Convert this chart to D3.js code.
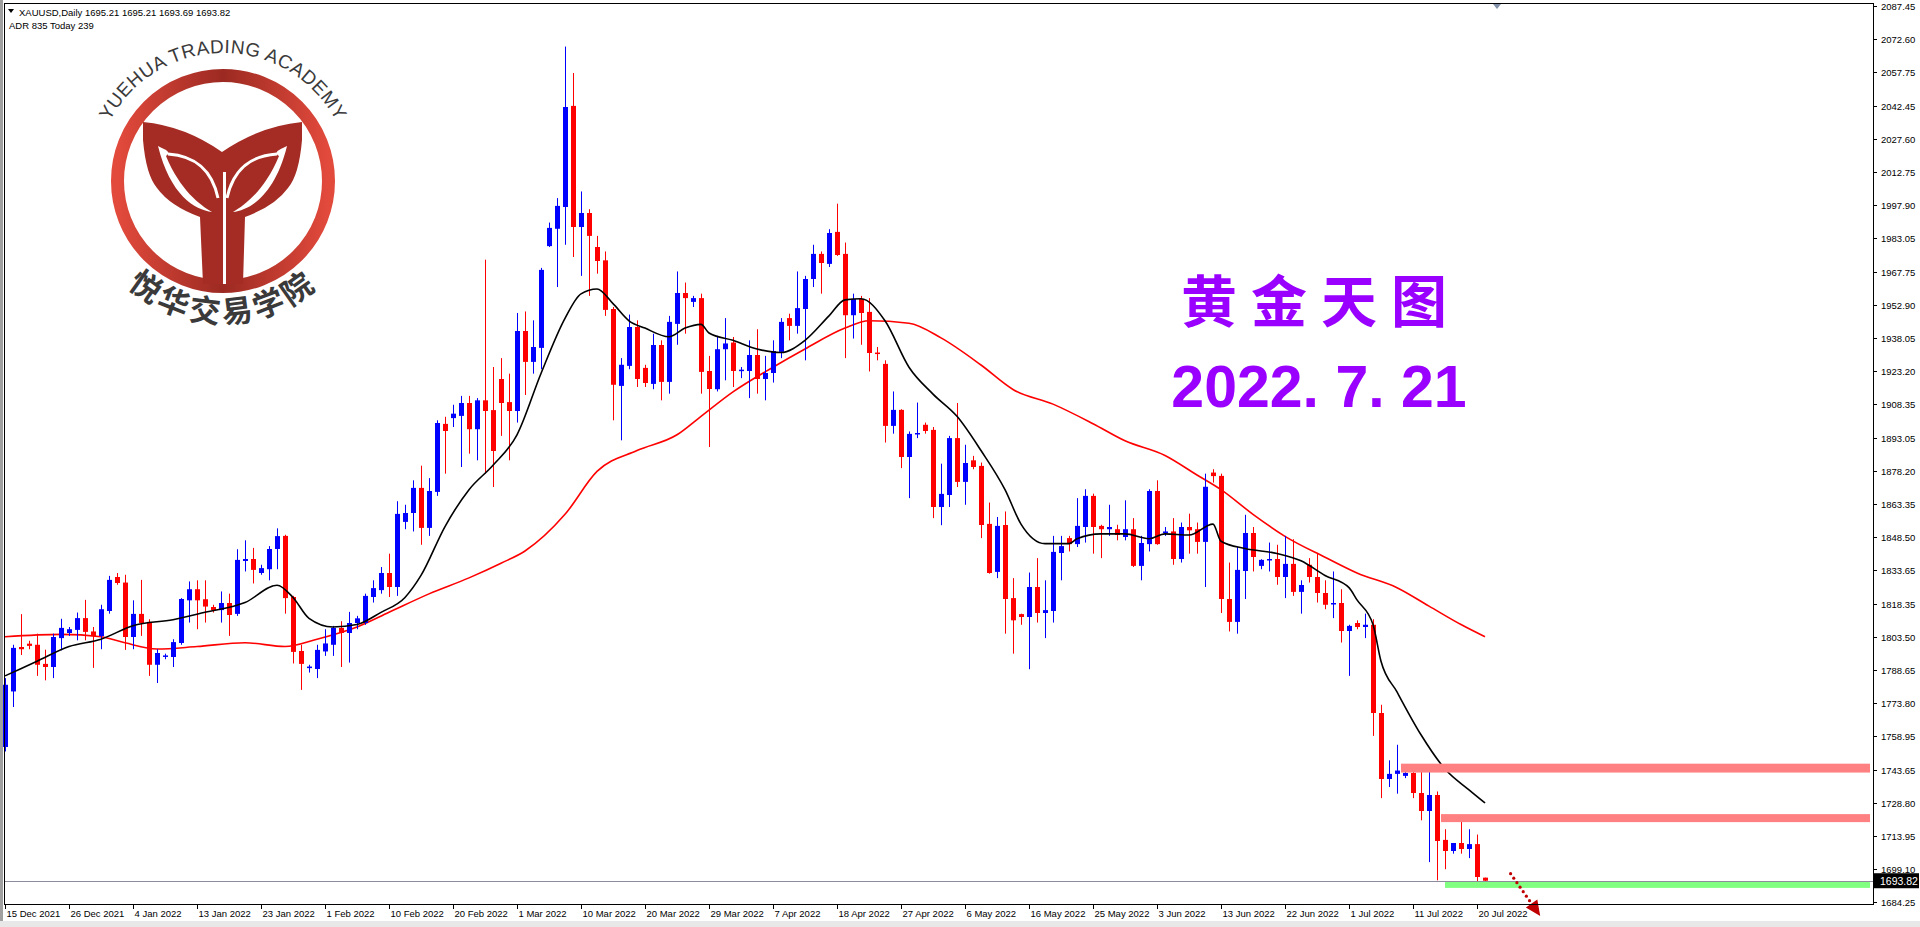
<!DOCTYPE html>
<html><head><meta charset="utf-8">
<script src="https://cdn.jsdelivr.net/npm/d3@7"></script>
<style>html,body{margin:0;padding:0;background:#fff;overflow:hidden}</style>
</head><body>
<svg id="c" width="1920" height="927"></svg>
<script>
// ---------- DATA ----------
const dateLabels = ["15 Dec 2021","26 Dec 2021","4 Jan 2022","13 Jan 2022","23 Jan 2022","1 Feb 2022","10 Feb 2022","20 Feb 2022","1 Mar 2022","10 Mar 2022","20 Mar 2022","29 Mar 2022","7 Apr 2022","18 Apr 2022","27 Apr 2022","6 May 2022","16 May 2022","25 May 2022","3 Jun 2022","13 Jun 2022","22 Jun 2022","1 Jul 2022","11 Jul 2022","20 Jul 2022"];
const labelEvery = 8;
const priceTicks = [2087.45,2072.60,2057.75,2042.45,2027.60,2012.75,1997.90,1983.05,1967.75,1952.90,1938.05,1923.20,1908.35,1893.05,1878.20,1863.35,1848.50,1833.65,1818.35,1803.50,1788.65,1773.80,1758.95,1743.65,1728.80,1713.95,1699.10,1684.25];
const open = [1754,1779,1799,1800.5,1800,1791.4,1790,1803,1805.3,1806.7,1812,1806,1803.9,1815.2,1830.5,1828,1803.5,1813.9,1810.3,1791,1794.6,1794.5,1800.8,1820,1825,1820.5,1817,1815.6,1818.8,1813.9,1837.7,1838.6,1832.3,1834,1843.1,1849,1821.5,1797.2,1789.5,1789.1,1797,1800,1807.6,1805.3,1809.8,1809.8,1821.5,1824.6,1832.3,1826,1855.3,1859.3,1870.6,1852.6,1868.8,1899.4,1902,1903,1908.8,1897,1910,1905.6,1919.6,1909.2,1905.2,1941.2,1927.3,1933.6,1979.4,1987.2,1997,2042.5,1988,1994.3,1979,1973,1951.1,1916.5,1925.5,1943,1924.6,1917.4,1934.9,1918.3,1944.4,1958.3,1954.3,1956,1923.2,1915,1933,1936,1923.4,1923.2,1930.4,1919.6,1922.3,1931.8,1947,1943.5,1951.1,1964.6,1975.9,1971.4,1985.8,1975.9,1948.3,1955.6,1949.8,1931.5,1926.4,1898.5,1905.7,1884.5,1894.9,1899,1896.7,1862,1867.4,1893,1873.3,1883,1880.5,1854.4,1832.8,1853.9,1821,1813.8,1812.5,1826,1814.3,1815.2,1841.3,1848,1845.3,1853,1867,1853.5,1852,1852,1848.5,1852,1835.5,1845.3,1869.2,1850.3,1851,1838.6,1853,1852,1846.3,1877.5,1876,1820.6,1810.3,1833.2,1850.3,1835.5,1838.2,1838.6,1830.5,1836.4,1823.8,1836,1830.5,1823.3,1818.4,1818.8,1806.2,1809.8,1808,1809,1769.3,1739.6,1741.9,1741,1742.3,1733.3,1725.2,1732.4,1712.2,1707.2,1710.8,1708.1,1710.3,1695.21];
const high = [1785,1800,1813.8,1801.8,1805,1797.8,1805,1811.7,1808,1814.5,1820.2,1808,1818,1831,1832.3,1831.5,1820,1829.2,1811.5,1798,1796,1802.5,1821,1828.5,1829,1829,1818,1824,1823,1843,1847,1843.6,1836,1844.4,1852.4,1849.5,1822,1800,1791,1800,1807,1808.5,1810.6,1814.8,1813,1823,1829,1835,1841,1864.6,1863,1874,1880.6,1875,1901,1902.6,1908,1912,1912,1911,1973.3,1925,1929,1922,1949.3,1950,1946,1969.6,1990,2001,2069.2,2057.3,2004,1996,1984,1977,1952,1929,1948.6,1946,1926,1940,1937,1948,1968,1963,1957,1958,1930,1939,1947,1938.5,1925,1937,1942,1930,1937,1947,1949,1968,1966,1980,1977,1987,1998.5,1981,1958,1957,1956,1934,1928,1914,1906,1896,1909,1900,1898,1881.5,1894,1908.8,1890,1885,1882,1864,1857.5,1860,1830,1814,1832.5,1839,1829,1849,1849,1849,1866,1870,1868,1854,1863,1854,1865,1857,1849,1870,1874,1853,1857,1855,1859,1855,1877,1879,1877,1837,1844,1858.5,1853,1838.5,1846,1845,1849,1847.5,1829,1839,1841,1829,1833,1825,1809,1811,1814,1811.5,1773,1748,1755,1744.5,1744,1744.5,1744.8,1734,1717,1708,1722.5,1717,1714.6,1695.21];
const low = [1752,1772,1795.4,1798,1786,1784,1785,1797.5,1804,1802,1802,1789.6,1798,1814,1827,1797.7,1798,1804,1786,1782.8,1793.5,1790,1800,1810,1807,1810,1814.5,1810,1804,1813,1833,1827.6,1831.5,1829,1834,1814,1791.6,1779.7,1787.5,1785,1795,1795,1790,1792,1807,1809,1819,1823,1821.5,1822,1852,1851,1845,1849,1867,1877,1898,1880,1886,1883,1877,1871,1894,1883,1900,1912.4,1922,1924,1979,1961,1980,1974.5,1966,1957,1967,1948,1901,1892,1924,1916,1916,1915,1910,1913,1935,1940,1952,1913,1889,1914,1919,1916,1920,1911,1913,1910,1918,1929,1937,1940,1928,1961,1958,1970,1975,1929,1937.8,1935,1923,1928,1891,1895,1879.5,1866,1893,1895,1857,1853.8,1862,1871,1863,1879,1848,1832,1830,1805,1796,1809,1789,1810,1803,1810,1829,1842,1844,1846,1841,1839,1849,1847,1847,1835,1829,1842,1845,1849,1836,1837,1841,1841,1826,1873,1814.3,1806,1805,1820.6,1833,1834,1833,1827,1821,1822,1814,1828,1819,1816,1812,1801,1786,1807,1803,1759,1731,1736,1733,1740,1731,1721,1702.2,1694,1699,1706,1706,1704,1692,1693.69];
const close = [1782,1798.6,1798,1799.5,1791,1790,1803.5,1807.6,1807,1812,1805.8,1803.9,1816,1829.2,1827.8,1803.5,1813.9,1809.8,1791,1796.3,1795.2,1801.2,1820.6,1825,1820,1817.2,1815.6,1818.8,1813.4,1838.2,1838.6,1833.7,1834.5,1843.1,1848.9,1821,1796.8,1791.4,1790.2,1797.7,1800.6,1807.6,1805.3,1809.8,1811.9,1822,1825.5,1832.3,1826,1858.9,1859.3,1870.6,1852.6,1869.2,1899.8,1896.2,1904,1908.8,1897,1910,1905.2,1887.2,1908.8,1905.2,1941.2,1927.3,1934,1968.7,1987.6,1997.5,2042,1988,1994.3,1984,1972.7,1950.7,1917,1926,1943,1919.6,1917.8,1934.9,1918.3,1945.3,1958.3,1956,1956,1922.8,1915.1,1933,1935.6,1923.2,1923.8,1930.4,1919.6,1922.3,1932.2,1945.3,1943.5,1951.5,1964.6,1975.9,1971.8,1985.3,1975.4,1948.3,1955.6,1949.3,1931.3,1931,1898.5,1905.7,1884.5,1894.9,1895.3,1896.2,1862,1867.9,1893,1873.3,1881.8,1880,1853.9,1832.3,1853.5,1820.6,1811,1812.5,1826,1814.3,1815.6,1841.8,1844.4,1845.3,1853.5,1867,1853,1852,1853,1849.4,1852,1835.5,1845.8,1869.2,1845.3,1851,1838.6,1853,1851.5,1846.3,1871.1,1875.9,1820.6,1810.3,1833.7,1850.3,1839.5,1838.2,1838.6,1830.5,1836.4,1823.8,1826.9,1830.5,1823.3,1818,1818.8,1806.2,1808.5,1808,1809,1769.3,1739.6,1741.9,1743.4,1742.3,1733.3,1725.2,1732.4,1711.7,1707.2,1710.8,1708.1,1710.3,1695.5,1693.82];
// moving averages (bar index, value)
const fastMaBars = [0,4,8,12,16,21,25,30,34,36,38,41,44,47,50,52,55,58,61,64,67,70,72,74,76,78,80,83,85,87,88,91,94,97,100,103,105,107,110,113,116,119,122,125,127,130,133,134,137,140,143,145,148,151,152,155,159,162,165,168,169,171,172,174,177,180,183,185];
const fastMaVals = [1786,1792.6,1799.2,1802.5,1808.6,1811.3,1814.6,1819,1826.8,1821.3,1811.9,1808,1809.1,1814.6,1821.3,1831.2,1853.2,1869.8,1880.8,1894.5,1922.1,1946.9,1957.9,1960.1,1953.5,1945.8,1942.5,1938.6,1942.5,1944.2,1940.3,1937,1933.1,1931.5,1937,1948,1955.2,1955.7,1945.8,1924.9,1912.8,1902.8,1887.4,1869.8,1854.3,1845.5,1845.5,1847.7,1849.9,1849.9,1847.7,1849.9,1849.4,1854.3,1846.6,1843.3,1841.1,1837.8,1831.2,1825.7,1820.2,1809.1,1792.6,1778.8,1759.5,1744.1,1734.7,1728.8];
const slowMaBars = [0,7,12,15,19,24,30,35,39,44,48,53,58,62,65,70,74,79,84,87,91,96,100,105,108,113,117,122,126,131,136,140,145,149,152,156,160,165,169,174,178,182,185];
const slowMaVals = [1803.6,1804.7,1803.6,1800.9,1798.1,1799.2,1800.9,1799.2,1802.5,1808,1814.6,1822.9,1830.1,1836.7,1842.2,1858.7,1878,1887.4,1894.5,1902.8,1913.8,1924.9,1933.1,1942.5,1945.8,1944.7,1938.1,1925.9,1914.9,1908.3,1899.5,1891.8,1885.2,1876.4,1869.8,1858.7,1848.8,1839.4,1832.3,1825.7,1817.4,1809.1,1803.6];
// zones drawn by the analyst: [startBar, low, high]
const zoneStart = [174.5, 179.5, 180];
const zoneLow = [1742.5, 1720.2, 1690.6];
const zoneHigh = [1746.5, 1723.8, 1693.7];
const zoneColor = ["#ff8080","#ff8080","#80ff80"];
const lastPrice = 1693.82;
const arrowFrom = [188.2, 1697.0];
const arrowTo = [191.9, 1678.0];
const headerLine1 = "XAUUSD,Daily  1695.21 1695.21 1693.69 1693.82";
const headerLine2 = "ADR 835  Today 239";
const titleText = "黄金天图";
const dateText = "2022. 7. 21";

// ---------- DRAW ----------
const svg = d3.select("#c");
const L = 4, R = 1873, T = 3, B = 904;
const n = close.length;
const x = d3.scaleLinear().domain([0, n - 1]).range([5, 1485]);
const y = d3.scaleLinear().domain([1684.25, 2087.45]).range([902, 6]);
const axisFont = "'Liberation Sans', Arial, sans-serif";

svg.append("rect").attr("x",0).attr("y",0).attr("width",1920).attr("height",927).attr("fill","#fff");
svg.append("rect").attr("x",0).attr("y",0).attr("width",3).attr("height",927).attr("fill","#a0a0a0");
svg.append("rect").attr("x",0).attr("y",921).attr("width",1920).attr("height",6).attr("fill","#e8e8e8");

// logo
const lg = svg.append("g");
const cx = 223, cy = 181;
const defs = svg.append("defs");
const gr = defs.append("linearGradient").attr("id","rg").attr("x1","0").attr("x2","1").attr("y1","0").attr("y2","0");
gr.append("stop").attr("offset","0%").attr("stop-color","#e24a3c");
gr.append("stop").attr("offset","50%").attr("stop-color","#9c2a22");
gr.append("stop").attr("offset","100%").attr("stop-color","#e24a3c");
lg.append("circle").attr("cx",cx).attr("cy",cy).attr("r",105.5).attr("fill","none").attr("stroke","url(#rg)").attr("stroke-width",13);
lg.append("path").attr("fill","#a52c24")
  .attr("d","M143,122 Q185,126 222,152 Q260,126 302,122 L302,140 Q299,175 288,188 Q275,206 245,217 L243,284 L203,284 L200,217 Q170,206 157,188 Q146,175 143,140 Z");
[[1,0],[-1,445]].forEach(([s,o])=>{
  const g = lg.append("g").attr("transform",`translate(${o},0) scale(${s},1)`);
  g.append("path").attr("d","M158,146 C166,150 172,152 166,156 C180,190 200,205 212,212 C195,210 170,195 158,146 Z").attr("fill","#fff");
  g.append("path").attr("d","M168,154 C196,156 212,170 218,198").attr("stroke","#fff").attr("stroke-width",3).attr("fill","none");
});
lg.append("line").attr("x1",224.5).attr("x2",224.5).attr("y1",172).attr("y2",284).attr("stroke","#fff").attr("stroke-width",3);
defs.append("path").attr("id","arcTop").attr("d",`M${cx-128},${cy} A128,128 0 0 1 ${cx+128},${cy}`);
defs.append("path").attr("id","arcBot").attr("d",`M${cx-142},${cy} A142,142 0 0 0 ${cx+142},${cy}`);
lg.append("text").attr("font-family",axisFont).attr("font-size",19).attr("fill","#3a3a3a").attr("letter-spacing",0.5)
  .append("textPath").attr("href","#arcTop").attr("startOffset","50%").attr("text-anchor","middle").text("YUEHUA TRADING ACADEMY");
lg.append("text").attr("font-family","'Noto Sans CJK SC'").attr("font-weight","bold").attr("font-size",31).attr("fill","#3a3a3a").attr("letter-spacing",4)
  .append("textPath").attr("href","#arcBot").attr("startOffset","50%").attr("text-anchor","middle").text("悦华交易学院");

// moving averages
const ma = d3.line().x(d=>x(d[0])).y(d=>y(d[1])).curve(d3.curveMonotoneX);
svg.append("path").attr("d", ma(slowMaBars.map((b,i)=>[b,slowMaVals[i]]))).attr("fill","none").attr("stroke","#ff0000").attr("stroke-width",1.6);

// candles
const g = svg.append("g");
d3.range(n).forEach(i=>{
  const up = close[i] >= open[i];
  const col = up ? "#0000ff" : "#ff0000";
  const cxp = Math.round(x(i)) + 0.5;
  g.append("line").attr("x1",cxp).attr("x2",cxp).attr("y1",y(high[i])).attr("y2",y(low[i])).attr("stroke",col).attr("stroke-width",1);
  const top = y(Math.max(open[i],close[i])), bot = y(Math.min(open[i],close[i]));
  g.append("rect").attr("x",cxp-2.5).attr("width",5).attr("y",top).attr("height",Math.max(1.5,bot-top)).attr("fill",col);
});
svg.append("path").attr("d", ma(fastMaBars.map((b,i)=>[b,fastMaVals[i]]))).attr("fill","none").attr("stroke","#000").attr("stroke-width",1.6);

// zones
zoneStart.forEach((s,i)=>{
  svg.append("rect").attr("x",x(s)).attr("width",R-3-x(s)).attr("y",y(zoneHigh[i])).attr("height",y(zoneLow[i])-y(zoneHigh[i])).attr("fill",zoneColor[i]);
});

svg.append("line").attr("x1",L).attr("x2",R).attr("y1",Math.round(y(lastPrice))+0.5).attr("y2",Math.round(y(lastPrice))+0.5).attr("stroke","#8c8c9c").attr("stroke-width",1);

// dotted arrow
const a0 = [x(arrowFrom[0]), y(arrowFrom[1])], a1 = [x(arrowTo[0]), y(arrowTo[1])];
const dx = a1[0]-a0[0], dy = a1[1]-a0[1], len = Math.hypot(dx,dy);
d3.range(0, len-12, 5.5).forEach(t=>{
  svg.append("circle").attr("cx",a0[0]+dx*t/len).attr("cy",a0[1]+dy*t/len).attr("r",1.6).attr("fill","#c00000");
});
const ux = dx/len, uy = dy/len;
svg.append("polygon").attr("fill","#c00000").attr("points",[
  [a1[0],a1[1]],
  [a1[0]-ux*15-uy*7, a1[1]-uy*15+ux*7],
  [a1[0]-ux*15+uy*7, a1[1]-uy*15-ux*7]].map(p=>p.join(",")).join(" "));

svg.append("rect").attr("x",L+0.5).attr("y",T+0.5).attr("width",R-L).attr("height",B-T).attr("fill","none").attr("stroke","#000");

// y axis
priceTicks.forEach(p=>{
  const yy = Math.round(y(p))+0.5;
  svg.append("line").attr("x1",R).attr("x2",R+4).attr("y1",yy).attr("y2",yy).attr("stroke","#000");
  svg.append("text").attr("x",R+8).attr("y",yy+3.5).attr("font-family",axisFont).attr("font-size",9.5).attr("fill","#000").text(p.toFixed(2));
});
const ly = y(lastPrice);
svg.append("rect").attr("x",R+1).attr("y",ly-7.5).attr("width",45).attr("height",15).attr("fill","#000");
svg.append("text").attr("x",R+7).attr("y",ly+4).attr("font-family",axisFont).attr("font-size",10.5).attr("fill","#fff").text(lastPrice.toFixed(2));

// x axis
dateLabels.forEach((d,k)=>{
  const xx = Math.round(x(k*labelEvery))+0.5;
  svg.append("line").attr("x1",xx).attr("x2",xx).attr("y1",B).attr("y2",B+5).attr("stroke","#000");
  svg.append("text").attr("x",xx+1).attr("y",B+13).attr("font-family",axisFont).attr("font-size",9.5).attr("fill","#000").text(d);
});

// header
svg.append("path").attr("d","M8,9 L14,9 L11,13 Z").attr("fill","#000");
svg.append("text").attr("x",19).attr("y",16).attr("font-family",axisFont).attr("font-size",9.5).text(headerLine1);
svg.append("text").attr("x",9).attr("y",29).attr("font-family",axisFont).attr("font-size",9.5).text(headerLine2);
svg.append("path").attr("d","M1493,4 L1501,4 L1497,9 Z").attr("fill","#8090a8");

// titles
svg.append("text").attr("x",1321).attr("y",322).attr("text-anchor","middle").attr("font-family","'Noto Sans CJK SC'").attr("font-weight","bold")
  .attr("font-size",56).attr("letter-spacing",14).attr("fill","#9900ff").text(titleText);
svg.append("text").attr("x",1319).attr("y",407).attr("text-anchor","middle").attr("font-family","'Liberation Sans', Arial, sans-serif").attr("font-weight","bold")
  .attr("font-size",59).attr("fill","#9900ff").text(dateText);
</script>
</body></html>
